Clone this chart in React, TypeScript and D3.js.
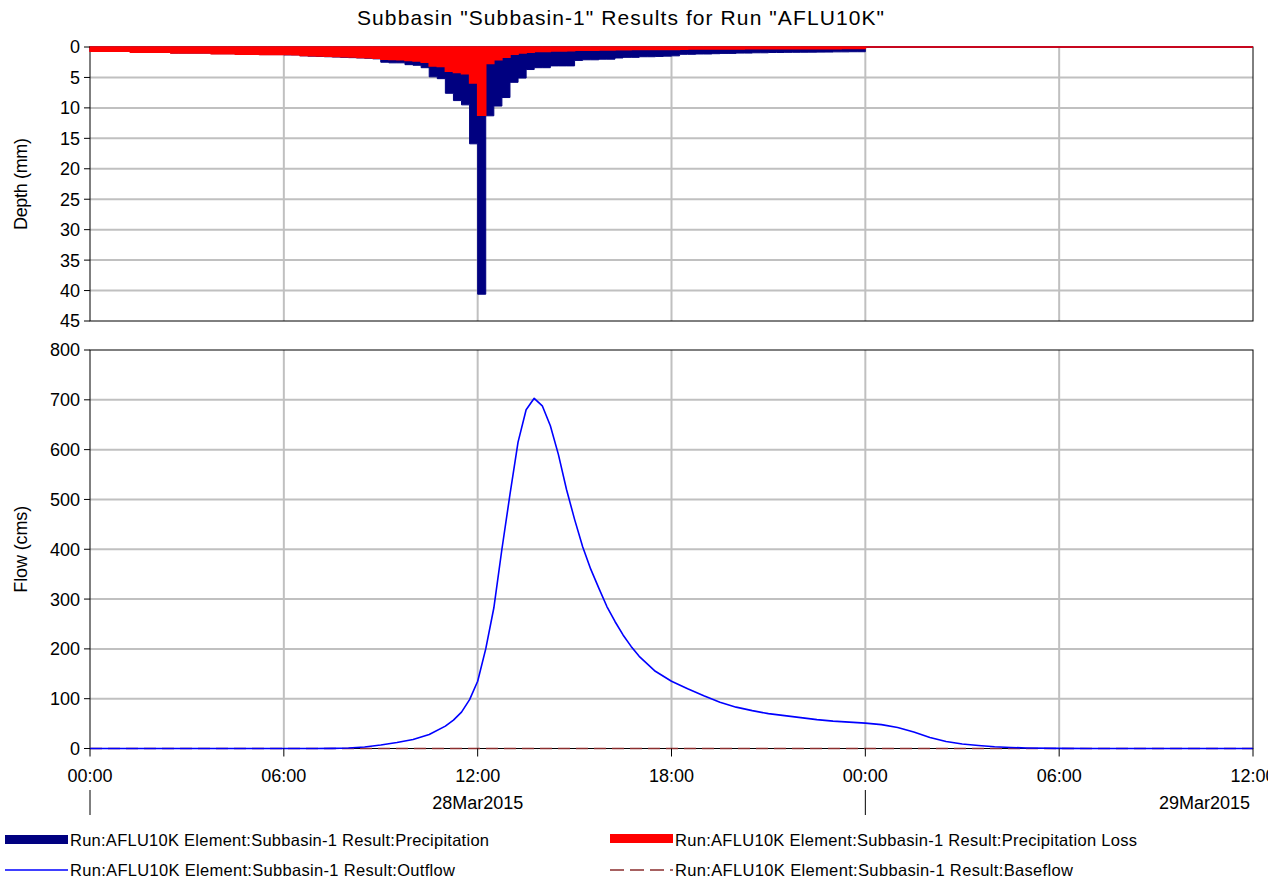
import React from 'react';
import * as d3 from 'd3';

// 15-minute precipitation depths (mm), 28Mar2015 00:00 .. 29Mar2015 00:00
const precipitation = [
  0.7, 0.7, 0.7, 0.7, 0.7, 0.85, 0.85, 0.85, 0.85, 0.85,
  1.0, 1.0, 1.0, 1.0, 1.0, 1.1, 1.1, 1.1, 1.2, 1.2,
  1.2, 1.25, 1.25, 1.25, 1.3, 1.3, 1.45, 1.5, 1.55, 1.6,
  1.65, 1.7, 1.75, 1.8, 1.85, 1.95, 2.5, 2.6, 2.6, 2.9,
  3.0, 3.4, 4.9, 5.2, 7.6, 8.8, 9.5, 15.9, 40.6, 11.3,
  9.7, 8.3, 5.8, 5.1, 3.7, 3.4, 3.4, 3.1, 3.1, 3.1,
  2.2, 2.1, 2.1, 2.0, 2.0, 1.8, 1.7, 1.7, 1.6, 1.6,
  1.55, 1.5, 1.45, 1.2, 1.2, 1.15, 1.15, 1.1, 1.05, 1.05,
  1.0, 1.0, 0.95, 0.95, 0.9, 0.9, 0.88, 0.87, 0.86, 0.85,
  0.84, 0.83, 0.8, 0.8, 0.78, 0.78,
];

// 15-minute precipitation loss depths (mm)
const precipitationLoss = [
  0.7, 0.7, 0.7, 0.7, 0.7, 0.85, 0.85, 0.85, 0.85, 0.85,
  1.0, 1.0, 1.0, 1.0, 1.0, 1.1, 1.1, 1.1, 1.2, 1.2,
  1.2, 1.25, 1.25, 1.25, 1.23, 1.28, 1.38, 1.42, 1.47, 1.52,
  1.56, 1.61, 1.66, 1.71, 1.75, 1.83, 2.0, 2.05, 2.1, 2.2,
  2.3, 2.5, 3.1, 3.2, 4.0, 4.2, 4.4, 5.9, 11.2, 2.7,
  2.1, 1.7, 1.2, 1.0, 0.85, 0.75, 0.75, 0.65, 0.65, 0.62,
  0.55, 0.55, 0.52, 0.5, 0.5, 0.45, 0.44, 0.43, 0.42, 0.41,
  0.4, 0.4, 0.39, 0.35, 0.34, 0.33, 0.33, 0.32, 0.32, 0.31,
  0.31, 0.3, 0.3, 0.3, 0.29, 0.29, 0.29, 0.28, 0.28, 0.28,
  0.27, 0.27, 0.27, 0.26, 0.26, 0.26,
];

// Outflow hydrograph (hours from 28Mar2015 00:00, cms)
const flowHours = [
  0, 1, 2, 3, 4, 5, 6, 7, 7.5, 8, 8.5, 9, 9.5, 10, 10.5, 11, 11.25, 11.5, 11.75,
  12, 12.25, 12.5, 12.75, 13, 13.25, 13.5, 13.75, 14, 14.25, 14.5, 14.75, 15,
  15.25, 15.5, 15.75, 16, 16.25, 16.5, 16.75, 17, 17.5, 18, 18.5, 19, 19.5, 20,
  20.5, 21, 21.5, 22, 22.5, 23, 23.5, 24, 24.5, 25, 25.5, 26, 26.5, 27, 27.5,
  28, 28.5, 29, 30, 31, 36,
];
const outflow = [
  0, 0, 0, 0, 0, 0, 0, 0, 0.3, 1, 3, 7, 12, 18, 28, 45, 57, 73, 98,
  135, 200, 282, 400, 510, 615, 680, 703, 688, 648, 590, 520, 460,
  405, 360, 322, 285, 255, 228, 205, 185, 155, 135, 120, 106, 93, 83,
  76, 70, 66, 62, 58, 55, 53, 51, 48, 42, 33, 22, 14, 9, 6,
  3.5, 2, 1, 0.3, 0, 0,
];

const baseflowHours = [0, 36];
const baseflow = [0, 0];

const depthTicks = [0, 5, 10, 15, 20, 25, 30, 35, 40, 45];
const flowTicks = [0, 100, 200, 300, 400, 500, 600, 700, 800];
const timeTickHours = [0, 6, 12, 18, 24, 30, 36];
const timeTickLabels = ['00:00', '06:00', '12:00', '18:00', '00:00', '06:00', '12:00'];
const dayStartHours = [0, 24];
const dayLabels = ['28Mar2015', '29Mar2015'];

const titleText = 'Subbasin "Subbasin-1" Results for Run "AFLU10K"';
const legendItems = [
  'Run:AFLU10K Element:Subbasin-1 Result:Precipitation',
  'Run:AFLU10K Element:Subbasin-1 Result:Precipitation Loss',
  'Run:AFLU10K Element:Subbasin-1 Result:Outflow',
  'Run:AFLU10K Element:Subbasin-1 Result:Baseflow',
];

const FONT = 'Arial, "Liberation Sans", sans-serif';
const NAVY = '#000080';
const RED = '#ff0000';
const BLUE = '#0000ff';
const BROWN = '#8b2e2e';
const GRID = '#c0c0c0';

export default function App() {
  const W = 1268;
  const H = 881;
  const left = 90;
  const right = 1253;
  const x = d3.scaleLinear().domain([0, 36]).range([left, right]);
  const yDepth = d3.scaleLinear().domain([0, 45]).range([47, 321]);
  const yFlow = d3.scaleLinear().domain([0, 800]).range([748.5, 350]);

  type P = { t: number; v: number };
  const stepPoints = (vals: number[]): P[] => {
    const pts = vals.map((v, i) => ({ t: i * 0.25, v }));
    pts.push({ t: vals.length * 0.25, v: 0 });
    pts.push({ t: 36, v: 0 });
    return pts;
  };
  const depthArea = d3
    .area<P>()
    .curve(d3.curveStepAfter)
    .x((d) => x(d.t))
    .y0(yDepth(0))
    .y1((d) => yDepth(d.v));

  const flowLine = d3
    .line<[number, number]>()
    .x((d) => x(d[0]))
    .y((d) => yFlow(d[1]));

  const outflowPts: [number, number][] = flowHours.map((h, i) => [h, outflow[i]]);
  const basePts: [number, number][] = baseflowHours.map((h, i) => [h, baseflow[i]]);

  const topY0 = yDepth(0);
  const topY1 = yDepth(45);
  const botY0 = yFlow(800);
  const botY1 = yFlow(0);

  const innerGridHours = timeTickHours.slice(1, -1);
  const TICK_FS = 18;

  return (
    <svg
      width={W}
      height={H}
      style={{ position: 'absolute', left: 0, top: 0, background: '#fff', overflow: 'hidden' }}
      fontFamily={FONT}
    >
      <rect x={0} y={0} width={W} height={H} fill="#fff" />
      <text x={357} y={25} fontSize={21} textLength={527} lengthAdjust="spacing" fill="#000">
        {titleText}
      </text>

      {/* ---------- Top plot: depth ---------- */}
      <g>
        {depthTicks.slice(1, -1).map((t) => (
          <line key={'gdh' + t} x1={left} x2={right} y1={yDepth(t)} y2={yDepth(t)} stroke={GRID} strokeWidth={2} />
        ))}
        {innerGridHours.map((h) => (
          <line key={'gdv' + h} x1={x(h)} x2={x(h)} y1={topY0} y2={topY1} stroke={GRID} strokeWidth={2} />
        ))}
        <rect x={left} y={topY0} width={right - left} height={topY1 - topY0} fill="none" stroke="#000" strokeWidth={1} />
        <path d={depthArea(stepPoints(precipitation)) || ''} fill={NAVY} stroke={NAVY} strokeWidth={1} />
        <path d={depthArea(stepPoints(precipitationLoss)) || ''} fill={RED} stroke={RED} strokeWidth={1.5} />
        {depthTicks.map((t) => (
          <g key={'dt' + t}>
            <line x1={left - 6} x2={left} y1={yDepth(t)} y2={yDepth(t)} stroke="#000" />
            <text x={80} y={yDepth(t)} dy="0.36em" fontSize={TICK_FS} textAnchor="end" fill="#000">
              {t}
            </text>
          </g>
        ))}
        <text
          transform={`translate(27,${(topY0 + topY1) / 2}) rotate(-90)`}
          fontSize={18}
          textLength={92}
          lengthAdjust="spacing"
          textAnchor="middle"
          fill="#000"
        >
          Depth (mm)
        </text>
      </g>

      {/* ---------- Bottom plot: flow ---------- */}
      <g>
        {flowTicks.slice(1, -1).map((t) => (
          <line key={'gfh' + t} x1={left} x2={right} y1={yFlow(t)} y2={yFlow(t)} stroke={GRID} strokeWidth={2} />
        ))}
        {innerGridHours.map((h) => (
          <line key={'gfv' + h} x1={x(h)} x2={x(h)} y1={botY0} y2={botY1} stroke={GRID} strokeWidth={2} />
        ))}
        <rect x={left} y={botY0} width={right - left} height={botY1 - botY0} fill="none" stroke="#000" strokeWidth={1} />
        <path d={flowLine(basePts) || ''} fill="none" stroke={BROWN} strokeWidth={1.5} strokeDasharray="12,6" />
        <path d={flowLine(outflowPts) || ''} fill="none" stroke={BLUE} strokeWidth={1.6} strokeLinejoin="round" />
        {flowTicks.map((t) => (
          <g key={'ft' + t}>
            <line x1={left - 6} x2={left} y1={yFlow(t)} y2={yFlow(t)} stroke="#000" />
            <text x={80} y={yFlow(t)} dy="0.36em" fontSize={TICK_FS} textAnchor="end" fill="#000">
              {t}
            </text>
          </g>
        ))}
        <text
          transform={`translate(27,${(botY0 + botY1) / 2}) rotate(-90)`}
          fontSize={18}
          textLength={87}
          lengthAdjust="spacing"
          textAnchor="middle"
          fill="#000"
        >
          Flow (cms)
        </text>
        {timeTickHours.map((h, i) => (
          <g key={'xt' + i}>
            <line x1={x(h)} x2={x(h)} y1={botY1} y2={botY1 + 8} stroke="#000" />
            <text x={x(h)} y={782} fontSize={TICK_FS} textAnchor="middle" fill="#000">
              {timeTickLabels[i]}
            </text>
          </g>
        ))}
        {dayStartHours.map((h, i) => (
          <line key={'ds' + i} x1={x(h)} x2={x(h)} y1={790} y2={815} stroke="#000" />
        ))}
        <text x={(x(dayStartHours[0]) + x(dayStartHours[1])) / 2} y={809} fontSize={TICK_FS} textAnchor="middle" fill="#000">
          {dayLabels[0]}
        </text>
        <text x={1250} y={809} fontSize={TICK_FS} textAnchor="end" fill="#000">
          {dayLabels[1]}
        </text>
      </g>

      {/* ---------- Legend ---------- */}
      <g fontSize={16.5} fill="#000">
        <rect x={5} y={835} width={63} height={9} fill={NAVY} />
        <text x={70} y={846} textLength={419} lengthAdjust="spacing">{legendItems[0]}</text>
        <rect x={610} y={834} width={63} height={9} fill={RED} />
        <text x={675} y={846} textLength={462} lengthAdjust="spacing">{legendItems[1]}</text>
        <line x1={5} x2={68} y1={870} y2={870} stroke={BLUE} strokeWidth={1.5} />
        <text x={70} y={876} textLength={385} lengthAdjust="spacing">{legendItems[2]}</text>
        <line x1={610} x2={673} y1={870} y2={870} stroke={BROWN} strokeWidth={1.5} strokeDasharray="14,6" />
        <text x={675} y={876} textLength={398} lengthAdjust="spacing">{legendItems[3]}</text>
      </g>
    </svg>
  );
}
